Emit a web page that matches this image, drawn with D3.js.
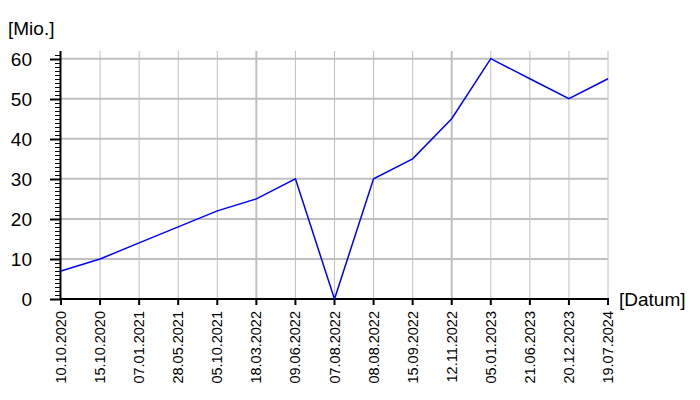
<!DOCTYPE html>
<html><head><meta charset="utf-8">
<script src="https://cdn.jsdelivr.net/npm/d3@7"></script>
<style>body{margin:0;background:#fff}svg{display:block}text{font-family:"Liberation Sans",Arial,sans-serif}</style>
</head><body><svg id="c" width="700" height="400"></svg>
<script>
const categories = ["10.10.2020","15.10.2020","07.01.2021","28.05.2021","05.10.2021","18.03.2022","09.06.2022","07.08.2022","08.08.2022","15.09.2022","12.11.2022","05.01.2023","21.06.2023","20.12.2023","19.07.2024"];
const values = [7,10,14,18,22,25,30,0,30,35,45,60,55,50,55];
const yTicks = [0,10,20,30,40,50,60];
const yLabel = "[Mio.]";
const xLabel = "[Datum]";

const svg = d3.select("#c");
const L = 61, R = 608, T = 51, B = 299;
const x = d3.scalePoint().domain(categories).range([L, R]);
const y = d3.scaleLinear().domain([0, 60]).range([B, 58.7]);

// grid
const g = svg.append("g");
g.selectAll("line.h").data(yTicks.filter(d => d > 0)).join("line")
  .attr("x1", L).attr("x2", R).attr("y1", d => y(d)).attr("y2", d => y(d))
  .attr("stroke", "#c0c0c0").attr("stroke-width", 2);
g.selectAll("line.v").data(categories.slice(1)).join("line")
  .attr("x1", d => x(d)).attr("x2", d => x(d)).attr("y1", T).attr("y2", B)
  .attr("stroke", "#c0c0c0")
  .attr("stroke-width", (d) => (categories.indexOf(d) % 5 === 0) ? 2 : 1);

// y axis
const minor = d3.range(0, 62, 1);
svg.append("g").selectAll("line").data(minor).join("line")
  .attr("x1", d => d % 10 === 0 ? 50 : 55).attr("x2", L)
  .attr("y1", d => Math.round(y(d)) + 0.5).attr("y2", d => Math.round(y(d)) + 0.5)
  .attr("stroke", "#000").attr("stroke-width", d => d % 10 === 0 ? 2 : 1);
svg.append("line").attr("x1", L - 0.5).attr("x2", L - 0.5).attr("y1", T).attr("y2", B + 1)
  .attr("stroke", "#000").attr("stroke-width", 2);
svg.append("g").selectAll("text").data(yTicks).join("text")
  .attr("x", 32).attr("y", d => y(d)).attr("dy", "0.36em").attr("text-anchor", "end")
  .attr("font-size", 19).text(d => d);
svg.append("text").attr("x", 8).attr("y", 35).attr("font-size", 19).text(yLabel);

// x axis
svg.append("line").attr("x1", L - 1).attr("x2", R + 1).attr("y1", B).attr("y2", B)
  .attr("stroke", "#000").attr("stroke-width", 2);
svg.append("g").selectAll("line").data(categories).join("line")
  .attr("x1", d => x(d)).attr("x2", d => x(d)).attr("y1", B).attr("y2", B + 6)
  .attr("stroke", "#000").attr("stroke-width", 2);
svg.append("g").selectAll("text").data(categories).join("text")
  .attr("transform", d => `translate(${x(d) + 5},${B + 12}) rotate(-90)`)
  .attr("text-anchor", "end").attr("font-size", 14.5).text(d => d);
svg.append("text").attr("x", 619).attr("y", 306).attr("font-size", 19).text(xLabel);

// line
svg.append("path").datum(values)
  .attr("d", d3.line().x((d, i) => x(categories[i])).y(d => y(d)))
  .attr("fill", "none").attr("stroke", "#0000ff").attr("stroke-width", 1.5);
</script></body></html>
